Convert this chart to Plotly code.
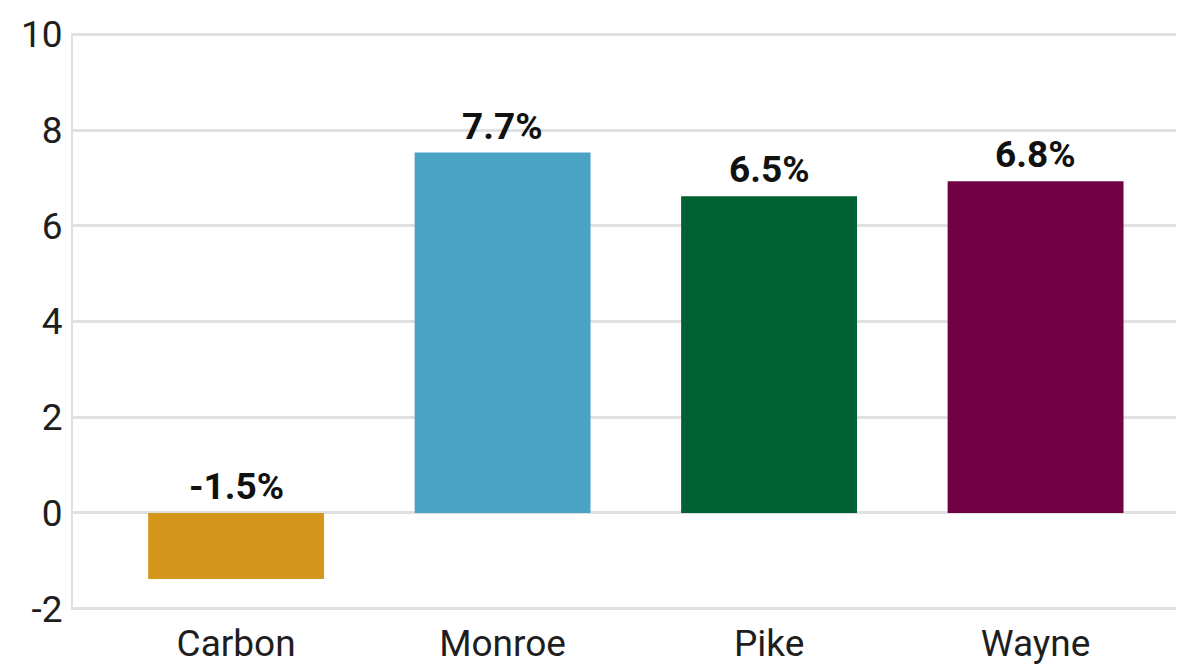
import plotly.graph_objects as go

categories = ["Carbon", "Monroe", "Pike", "Wayne"]
values = [-1.38, 7.53, 6.62, 6.93]
labels = ["-1.5%", "7.7%", "6.5%", "6.8%"]
colors = ["#D4971C", "#4BA3C3", "#006233", "#720045"]
y_ticks = [-2, 0, 2, 4, 6, 8, 10]
y_tick_text = ["-2", "0", "2", "4", "6", "8", "10"]

FONT = "Roboto, sans-serif"

fig = go.Figure()
fig.add_trace(go.Bar(
    x=categories, y=values, marker=dict(color=colors, line=dict(width=0)),
    width=0.66, hoverinfo="skip",
))

for c, v, t in zip(categories, values, labels):
    fig.add_annotation(
        x=c, y=max(v, 0), text="<b>" + t + "</b>", showarrow=False,
        yanchor="bottom", yshift=3,
        font=dict(family=FONT, size=37, color="#111111"),
    )

# page body adds an 8px offset, so the figure is sized to the remaining area
fig.update_layout(
    width=1176, height=664,
    margin=dict(l=65, r=0, t=25, b=62),
    paper_bgcolor="white", plot_bgcolor="white",
    showlegend=False,
)
fig.update_xaxes(
    range=[-0.612, 3.557], showgrid=False, zeroline=False,
    showline=False, ticks="", automargin=False, ticklabelstandoff=8,
    tickfont=dict(family=FONT, size=37, color="#1e1e1e"),
)
fig.update_yaxes(
    range=[-2.03, 10.03], tickvals=y_ticks, ticktext=y_tick_text,
    showgrid=True, gridcolor="#e0e0e0",
    gridwidth=3, zeroline=False, showline=True, linecolor="#e0e0e0",
    linewidth=2, ticks="", ticklabelstandoff=1, automargin=False,
    tickfont=dict(family=FONT, size=37, color="#1e1e1e"),
)

fig.write_html("out.html")
